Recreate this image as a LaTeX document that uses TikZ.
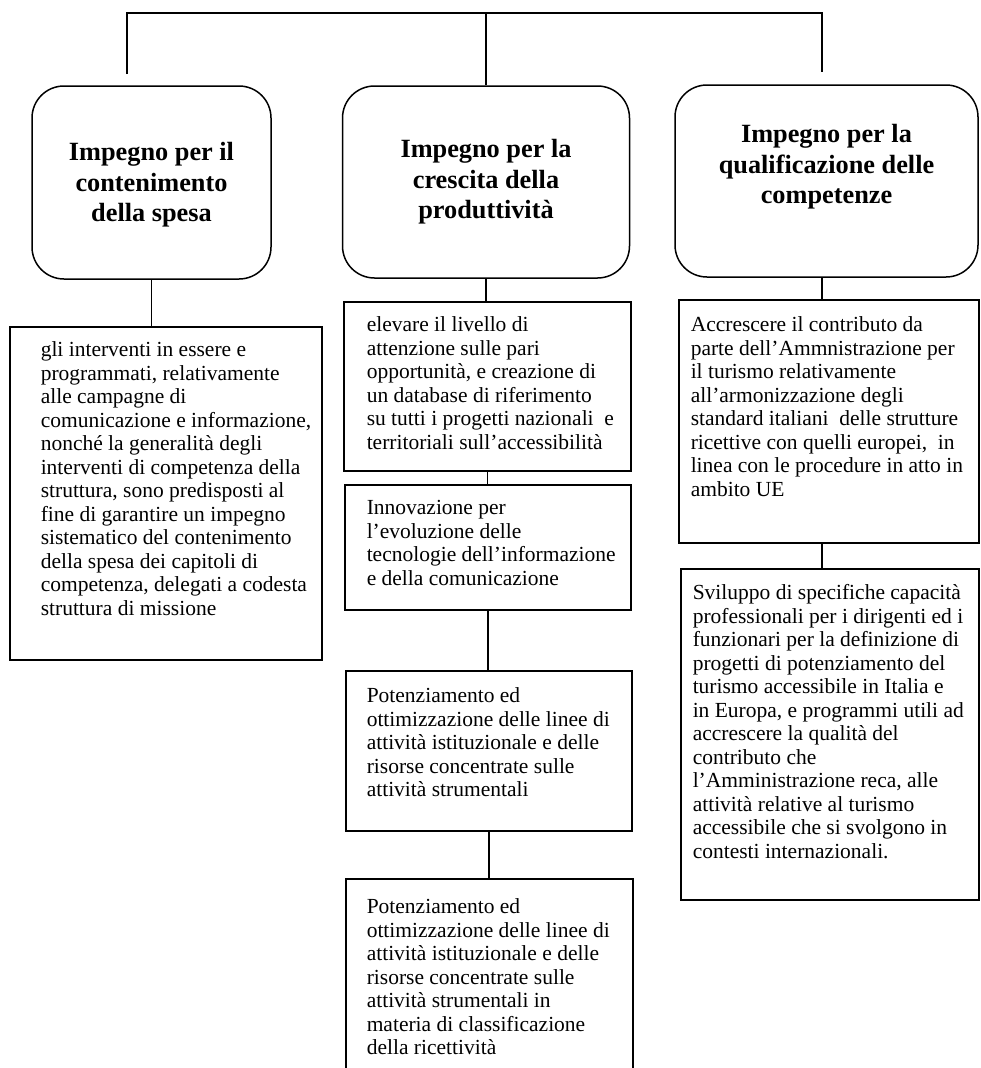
\documentclass[tikz,border=0pt]{standalone}
\usepackage{fontspec}
\setmainfont{Liberation Serif}
\begin{document}
\begin{tikzpicture}[x=1pt,y=-1pt,
  line width=1.5pt,
  roundbox/.style={draw, rounded corners=32pt, inner sep=0pt},
  titletext/.style={align=center, inner sep=0pt,
    font=\fontsize{26.3}{30.5}\selectfont\bfseries},
  tbox/.style={draw, anchor=north west, inner sep=0pt},
  txt/.style={anchor=north west, align=left, inner sep=0pt,
    font=\fontsize{21.5}{23.5}\selectfont}
]
\useasboundingbox (0,0) rectangle (980,1068);

% top bar
\coordinate (bl) at (127,13);
\coordinate (br) at (822,13);
\coordinate (ll) at (127,74);
\coordinate (rl) at (822,72);
\coordinate (rc) at (822,0);

% title boxes
\node[roundbox, minimum width=239pt, minimum height=193pt] (L) at (151.5,182.5) {};
\node[titletext] (Lt0) at (151.5,185) {Impegno per il\\contenimento\\della spesa};
\node[roundbox, minimum width=287pt, minimum height=192pt] (M) at (486,182) {};
\node[titletext] (Mt0) at (486,182) {Impegno per la\\crescita della\\produttività};
\node[roundbox, minimum width=303pt, minimum height=192pt] (R) at (826.5,181) {};
\node[titletext] (Rt0) at (826.5,167) {Impegno per la\\qualificazione delle\\competenze};

\draw (ll) -- (bl) -- (br) -- (rl);
\draw (M.north |- bl) -- (M.north);

% left column
\node[tbox, minimum width=312pt, minimum height=333pt] (Lb) at (9,326) {};
\node[txt] (Lt) at (40,341) {gli interventi in essere e\\
programmati, relativamente\\
alle campagne di\\
comunicazione e informazione,\\
nonché la generalità degli\\
interventi di competenza della\\
struttura, sono predisposti al\\
fine di garantire un impegno\\
sistematico del contenimento\\
della spesa dei capitoli di\\
competenza, delegati a codesta\\
struttura di missione};
\draw (L.south) -- (L.south |- Lb.north);

% middle column
\node[tbox, minimum width=287pt, minimum height=169pt] (M1) at (343,301) {};
\node[txt] (M1t) at (366,316) {elevare il livello di\\
attenzione sulle pari\\
opportunità, e creazione di\\
un database di riferimento\\
su tutti i progetti nazionali~ e\\
territoriali sull’accessibilità};
\node[tbox, minimum width=286pt, minimum height=125pt] (M2) at (344,484) {};
\node[txt] (M2t) at (366,500) {Innovazione per\\
l’evoluzione delle\\
tecnologie dell’informazione\\
e della comunicazione};
\node[tbox, minimum width=286pt, minimum height=160pt] (M3) at (345,670) {};
\node[txt] (M3t) at (366,687) {Potenziamento ed\\
ottimizzazione delle linee di\\
attività istituzionale e delle\\
risorse concentrate sulle\\
attività strumentali};
\node[tbox, minimum width=287pt, minimum height=196pt] (M4) at (345,878) {};
\node[txt] (M4t) at (366,898) {Potenziamento ed\\
ottimizzazione delle linee di\\
attività istituzionale e delle\\
risorse concentrate sulle\\
attività strumentali in\\
materia di classificazione\\
della ricettività};
\draw (M.south) -- (M.south |- M1.north);
\draw (M1.south) -- (M1.south |- M2.north);
\draw (M2.south) -- (M2.south |- M3.north);
\draw (M3.south) -- (M3.south |- M4.north);

% right column
\node[tbox, minimum width=300pt, minimum height=243pt] (R1) at (678,299) {};
\node[txt] (R1t) at (690,316) {Accrescere il contributo da\\
parte dell’Ammnistrazione per\\
il turismo relativamente\\
all’armonizzazione degli\\
standard italiani~ delle strutture\\
ricettive con quelli europei,~ in\\
linea con le procedure in atto in\\
ambito UE};
\node[tbox, minimum width=298pt, minimum height=331pt] (R2) at (680,568) {};
\node[txt] (R2t) at (692,584) {Sviluppo di specifiche capacità\\
professionali per i dirigenti ed i\\
funzionari per la definizione di\\
progetti di potenziamento del\\
turismo accessibile in Italia e\\
in Europa, e programmi utili ad\\
accrescere la qualità del\\
contributo che\\
l’Amministrazione reca, alle\\
attività relative al turismo\\
accessibile che si svolgono in\\
contesti internazionali.};
\draw (R.south -| rc) -- (R1.north -| rc);
\draw (R1.south -| rc) -- (R2.north -| rc);
\end{tikzpicture}
\end{document}
